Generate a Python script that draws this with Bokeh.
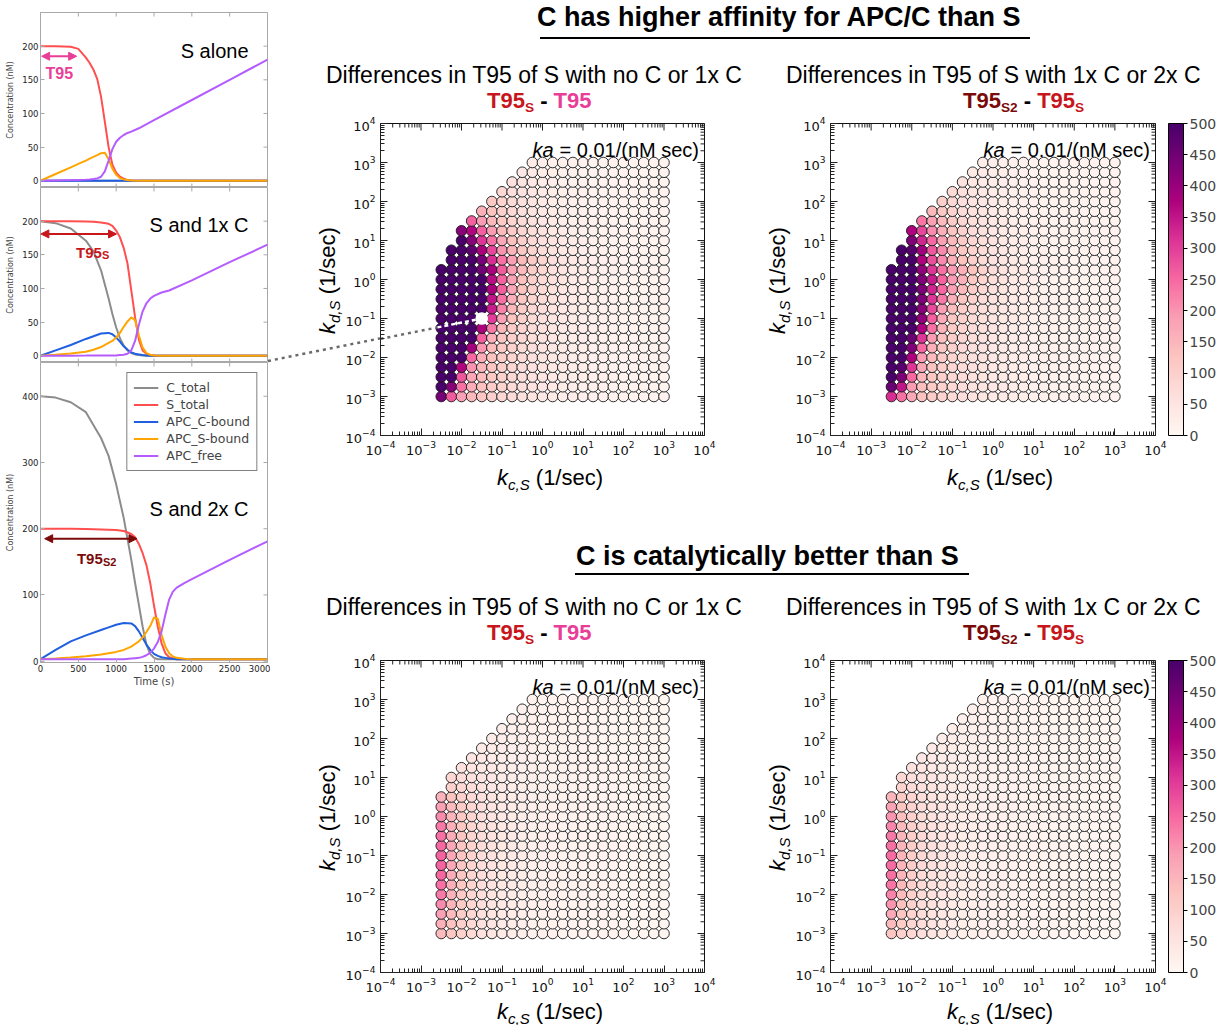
import math
from bokeh.plotting import figure
from bokeh.models import (ColumnDataSource, LinearColorMapper, ColorBar, FixedTicker,
                          Label, Arrow, NormalHead, Div)
from bokeh.layouts import row, column
from bokeh.embed import file_html
from bokeh.resources import INLINE

# ------------------------------------------------------------------ data
series_names = ["C_total", "S_total", "APC_C-bound", "APC_S-bound", "APC_free"]

# panel "S alone"
t_alone = [0, 200, 400, 500, 600, 650, 700, 750, 800, 850, 900, 950, 1000, 1050, 1100, 1150, 1200, 1300, 1500, 2000, 2500, 3000]
alone_C_total = [0, 0, 0, 0, 0, 0, 0, 0, 0, 0, 0, 0, 0, 0, 0, 0, 0, 0, 0, 0, 0, 0]
alone_S_total = [200, 200, 199, 196, 183, 175, 165, 151, 125, 88, 50, 24, 12, 6, 3, 1, 0.5, 0, 0, 0, 0, 0]
alone_C_bound = [0, 0, 0, 0, 0, 0, 0, 0, 0, 0, 0, 0, 0, 0, 0, 0, 0, 0, 0, 0, 0, 0]
alone_S_bound = [0, 10, 20, 25, 30, 33, 35.5, 38, 41, 41.5, 32, 18, 9, 4, 2, 1, 0.5, 0, 0, 0, 0, 0]
alone_free = [0, 0.5, 1, 1.3, 1.7, 2, 2.5, 3.5, 6, 14, 30, 47, 58, 64, 68, 71, 73, 78, 90, 120, 150, 180]

# panel "S and 1x C"
t_1x = [0, 200, 400, 600, 700, 800, 900, 950, 1000, 1050, 1100, 1150, 1200, 1250, 1300, 1350, 1400, 1450, 1500, 1600, 1700, 2000, 2500, 3000]
c1_C_total = [200, 197, 189, 171, 155, 127, 85, 62, 42, 26, 15, 8, 4, 2, 1, 0.5, 0, 0, 0, 0, 0, 0, 0, 0]
c1_S_total = [200, 200, 200, 199.5, 199, 198, 196, 193, 186, 176, 160, 137, 97, 57, 24, 8, 3, 1, 0.5, 0, 0, 0, 0, 0]
c1_C_bound = [0, 8, 16, 25, 29, 33, 34, 32, 27, 21, 14, 9, 5, 3, 2, 1, 0.5, 0, 0, 0, 0, 0, 0, 0]
c1_S_bound = [0, 1.5, 3.5, 6, 9, 13, 19, 22, 27, 34, 43, 51, 57, 53, 30, 12, 4, 1.5, 0.5, 0, 0, 0, 0, 0]
c1_free = [0, 0, 0.2, 0.3, 0.4, 0.5, 0.5, 0.5, 0.5, 1, 1.5, 3, 8, 22, 46, 66, 78, 85, 89, 94, 97, 112, 139, 165]

# panel "S and 2x C"
t_2x = [0, 200, 400, 600, 800, 900, 1000, 1100, 1200, 1250, 1300, 1350, 1400, 1450, 1500, 1550, 1600, 1650, 1700, 1750, 1800, 1900, 2000, 2500, 3000]
c2_C_total = [400, 398, 391, 376, 337, 310, 267, 216, 153, 118, 85, 52, 25, 11, 5, 3, 3, 3, 3, 3, 3, 3, 3, 3, 3]
c2_S_total = [200, 200, 200, 199.5, 199, 198.5, 198, 196.5, 192, 187, 177, 163, 145, 118, 84, 52, 27, 12, 6, 4, 3, 3, 3, 3, 3]
c2_C_bound = [3, 17, 30, 39, 47, 51, 55, 57.5, 57, 53, 45, 35, 25, 17, 11, 8, 6, 5, 4, 3.5, 3, 3, 3, 3, 3]
c2_S_bound = [3, 4, 5.5, 7.5, 10, 12, 14, 17, 22, 26, 30, 36, 44, 53, 66, 64, 40, 22, 12, 7, 5, 3.5, 3, 3, 3]
c2_free = [3, 3, 3, 3, 3, 3, 3, 3, 4, 4.5, 5, 6.5, 9, 13, 19, 29, 45, 70, 93, 105, 111, 118, 124, 153, 181]

# arrows / labels in the time panels (time, concentration)
t95_alone = (15, 478, 185)
t95_1x = (5, 1005, 181)
t95_2x = (55, 1275, 185)
time_ticks = [0, 500, 1000, 1500, 2000, 2500, 3000]

# parameter grid of the scatter panels
kc_exp = [-2.5, -2.25, -2.0, -1.75, -1.5, -1.25, -1.0, -0.75, -0.5, -0.25, 0.0, 0.25,
          0.5, 0.75, 1.0, 1.25, 1.5, 1.75, 2.0, 2.25, 2.5, 2.75, 3.0]
kd_exp = [-3.0, -2.75, -2.5, -2.25, -2.0, -1.75, -1.5, -1.25, -1.0, -0.75, -0.5, -0.25, 0.0,
          0.25, 0.5, 0.75, 1.0, 1.25, 1.5, 1.75, 2.0, 2.25, 2.5, 2.75, 3.0]
# first kc column present in each kd row (bottom row first)
start_col_top = [0, 0, 0, 0, 0, 0, 0, 0, 0, 0, 0, 0, 0, 0, 1, 1, 2, 2, 3, 4, 5, 6, 7, 8, 9]
start_col_bottom = [0, 0, 0, 0, 0, 0, 0, 0, 0, 0, 0, 0, 0, 0, 0, 1, 1, 2, 3, 4, 5, 6, 7, 8, 9]

# C has higher affinity: T95_S - T95
affinity_S_minus_0 = [
    [440, 265, 185, 145, 120, 100, 85, 72, 60, 50, 42, 35, 29, 24, 20, 17, 15, 13, 12, 11, 10, 10, 10],
    [500, 420, 240, 165, 130, 108, 90, 76, 63, 52, 44, 37, 30, 25, 21, 18, 15, 13, 12, 11, 10, 10, 10],
    [500, 500, 270, 175, 140, 115, 95, 80, 66, 55, 46, 38, 31, 26, 22, 18, 16, 14, 12, 11, 10, 10, 10],
    [500, 500, 370, 200, 150, 120, 100, 84, 70, 58, 48, 40, 32, 27, 22, 19, 16, 14, 12, 11, 10, 10, 10],
    [500, 500, 500, 250, 165, 128, 105, 88, 73, 60, 50, 41, 33, 27, 23, 19, 16, 14, 12, 11, 10, 10, 10],
    [500, 500, 500, 390, 200, 140, 112, 92, 76, 63, 52, 42, 34, 28, 23, 19, 16, 14, 12, 11, 10, 10, 10],
    [500, 500, 500, 500, 260, 160, 120, 97, 80, 66, 54, 44, 35, 29, 24, 20, 17, 14, 12, 11, 10, 10, 10],
    [500, 500, 500, 500, 380, 230, 145, 108, 86, 70, 57, 46, 37, 30, 24, 20, 17, 14, 12, 11, 10, 10, 10],
    [500, 500, 500, 500, 480, 300, 180, 125, 95, 76, 61, 49, 39, 31, 25, 21, 17, 15, 13, 11, 10, 10, 10],
    [500, 500, 500, 500, 500, 340, 220, 145, 105, 82, 65, 52, 41, 33, 26, 21, 18, 15, 13, 11, 10, 10, 10],
    [500, 500, 500, 500, 500, 350, 240, 160, 115, 88, 69, 55, 43, 34, 27, 22, 18, 15, 13, 11, 10, 10, 10],
    [500, 500, 500, 500, 500, 380, 260, 175, 125, 94, 73, 58, 45, 35, 28, 22, 18, 15, 13, 11, 10, 10, 10],
    [500, 500, 500, 500, 500, 360, 255, 180, 130, 98, 76, 60, 47, 36, 29, 23, 19, 15, 13, 11, 10, 10, 10],
    [500, 500, 500, 500, 450, 380, 265, 185, 140, 105, 80, 62, 48, 37, 30, 24, 19, 16, 13, 11, 10, 10, 10],
    [500, 500, 500, 440, 320, 240, 185, 140, 108, 83, 64, 50, 39, 31, 24, 19, 16, 13, 11, 10, 10, 10],
    [500, 500, 470, 380, 290, 200, 150, 115, 88, 68, 53, 41, 32, 25, 20, 16, 13, 11, 10, 10, 10, 10],
    [500, 420, 310, 240, 170, 130, 100, 78, 61, 48, 38, 30, 24, 19, 15, 13, 11, 10, 10, 10, 10],
    [420, 370, 260, 190, 140, 108, 84, 66, 52, 41, 32, 25, 20, 16, 13, 11, 10, 10, 10, 10, 10],
    [260, 190, 145, 112, 88, 70, 55, 43, 34, 27, 21, 17, 14, 12, 10, 10, 10, 10, 10, 10],
    [160, 125, 98, 78, 62, 49, 39, 31, 25, 20, 16, 13, 11, 10, 10, 10, 10, 10, 10],
    [115, 90, 72, 58, 46, 37, 29, 23, 19, 15, 13, 11, 10, 10, 10, 10, 10, 10],
    [80, 64, 52, 42, 33, 27, 22, 18, 15, 12, 11, 10, 10, 10, 10, 10, 10],
    [58, 47, 38, 31, 25, 20, 17, 14, 12, 11, 10, 10, 10, 10, 10, 10],
    [42, 34, 28, 23, 19, 16, 13, 12, 11, 10, 10, 10, 10, 10, 10],
    [30, 25, 21, 18, 15, 13, 12, 11, 10, 10, 10, 10, 10, 10],
]
# C has higher affinity: T95_S2 - T95_S
affinity_S2_minus_S = [
    [320, 240, 170, 130, 108, 90, 76, 64, 54, 45, 38, 32, 27, 22, 19, 16, 14, 12, 11, 10, 10, 10, 10],
    [460, 350, 190, 135, 112, 93, 78, 66, 55, 46, 39, 32, 27, 23, 19, 16, 14, 12, 11, 10, 10, 10, 10],
    [500, 435, 250, 150, 118, 97, 81, 68, 57, 48, 40, 33, 28, 23, 19, 16, 14, 12, 11, 10, 10, 10, 10],
    [500, 480, 310, 175, 128, 102, 85, 71, 59, 49, 41, 34, 28, 23, 19, 16, 14, 12, 11, 10, 10, 10, 10],
    [500, 500, 375, 190, 140, 108, 89, 74, 61, 51, 42, 35, 29, 24, 20, 17, 14, 12, 11, 10, 10, 10, 10],
    [500, 500, 430, 250, 160, 118, 95, 78, 64, 53, 44, 36, 29, 24, 20, 17, 14, 12, 11, 10, 10, 10, 10],
    [500, 500, 460, 310, 190, 130, 102, 83, 68, 56, 46, 37, 30, 25, 20, 17, 14, 12, 11, 10, 10, 10, 10],
    [500, 500, 500, 375, 240, 150, 108, 88, 72, 59, 48, 38, 31, 25, 21, 17, 14, 12, 11, 10, 10, 10, 10],
    [500, 500, 500, 410, 260, 165, 118, 94, 76, 62, 50, 40, 32, 26, 21, 17, 14, 12, 11, 10, 10, 10, 10],
    [500, 500, 500, 420, 285, 185, 135, 102, 82, 66, 53, 42, 33, 27, 21, 17, 15, 12, 11, 10, 10, 10, 10],
    [500, 500, 500, 430, 310, 230, 160, 118, 92, 72, 57, 45, 35, 28, 22, 18, 15, 12, 11, 10, 10, 10, 10],
    [500, 500, 500, 435, 330, 250, 185, 140, 105, 80, 62, 48, 37, 29, 23, 18, 15, 13, 11, 10, 10, 10, 10],
    [500, 500, 500, 430, 340, 255, 190, 155, 115, 86, 66, 51, 39, 30, 24, 19, 15, 13, 11, 10, 10, 10, 10],
    [500, 500, 500, 410, 310, 240, 190, 160, 125, 92, 70, 54, 41, 32, 25, 19, 16, 13, 11, 10, 10, 10, 10],
    [500, 500, 375, 280, 210, 160, 125, 98, 76, 58, 45, 35, 27, 21, 17, 14, 12, 10, 10, 10, 10, 10],
    [500, 480, 390, 270, 210, 150, 115, 90, 70, 54, 42, 33, 26, 20, 16, 13, 11, 10, 10, 10, 10, 10],
    [430, 330, 250, 185, 140, 108, 84, 65, 51, 40, 31, 25, 20, 16, 13, 11, 10, 10, 10, 10, 10],
    [375, 290, 210, 160, 120, 92, 72, 56, 44, 35, 28, 22, 18, 14, 12, 10, 10, 10, 10, 10, 10],
    [235, 185, 140, 108, 84, 66, 52, 41, 32, 26, 21, 17, 14, 12, 10, 10, 10, 10, 10, 10],
    [145, 115, 90, 72, 57, 45, 36, 29, 23, 19, 15, 13, 11, 10, 10, 10, 10, 10, 10],
    [100, 80, 64, 52, 42, 34, 27, 22, 18, 15, 12, 11, 10, 10, 10, 10, 10, 10],
    [75, 60, 48, 39, 31, 25, 21, 17, 14, 12, 11, 10, 10, 10, 10, 10, 10],
    [55, 44, 36, 29, 24, 20, 16, 14, 12, 11, 10, 10, 10, 10, 10, 10],
    [40, 33, 27, 22, 18, 15, 13, 12, 11, 10, 10, 10, 10, 10, 10],
    [28, 24, 20, 17, 14, 12, 11, 10, 10, 10, 10, 10, 10, 10],
]
# C is catalytically better: T95_S - T95
catalytic_S_minus_0 = [
    [140, 118, 95, 75, 58, 45, 36, 29, 24, 20, 17, 15, 13, 11, 10, 9, 8, 8, 7, 7, 7, 7, 7],
    [160, 128, 100, 78, 60, 47, 37, 30, 24, 20, 17, 15, 13, 11, 10, 9, 8, 8, 7, 7, 7, 7, 7],
    [185, 140, 105, 80, 62, 48, 38, 30, 25, 21, 17, 15, 13, 11, 10, 9, 8, 8, 7, 7, 7, 7, 7],
    [210, 150, 110, 83, 64, 49, 39, 31, 25, 21, 18, 15, 13, 11, 10, 9, 8, 8, 7, 7, 7, 7, 7],
    [230, 155, 113, 85, 65, 50, 39, 31, 25, 21, 18, 15, 13, 11, 10, 9, 8, 8, 7, 7, 7, 7, 7],
    [240, 160, 116, 87, 66, 51, 40, 32, 26, 21, 18, 15, 13, 11, 10, 9, 8, 8, 7, 7, 7, 7, 7],
    [250, 165, 118, 88, 67, 52, 40, 32, 26, 21, 18, 15, 13, 11, 10, 9, 8, 8, 7, 7, 7, 7, 7],
    [255, 170, 120, 89, 68, 52, 41, 32, 26, 21, 18, 15, 13, 11, 10, 9, 8, 8, 7, 7, 7, 7, 7],
    [255, 170, 121, 90, 68, 52, 41, 32, 26, 21, 18, 15, 13, 11, 10, 9, 8, 8, 7, 7, 7, 7, 7],
    [250, 170, 121, 90, 68, 52, 41, 32, 26, 21, 18, 15, 13, 11, 10, 9, 8, 8, 7, 7, 7, 7, 7],
    [240, 165, 120, 89, 67, 52, 40, 32, 26, 21, 18, 15, 13, 11, 10, 9, 8, 8, 7, 7, 7, 7, 7],
    [230, 160, 118, 88, 66, 51, 40, 32, 26, 21, 18, 15, 13, 11, 10, 9, 8, 8, 7, 7, 7, 7, 7],
    [210, 150, 114, 86, 65, 50, 39, 31, 25, 21, 17, 15, 13, 11, 10, 9, 8, 8, 7, 7, 7, 7, 7],
    [185, 140, 108, 83, 63, 49, 38, 31, 25, 20, 17, 15, 13, 11, 10, 9, 8, 8, 7, 7, 7, 7, 7],
    [155, 125, 100, 78, 60, 47, 37, 30, 24, 20, 17, 14, 12, 11, 10, 9, 8, 8, 7, 7, 7, 7, 7],
    [95, 80, 65, 52, 42, 34, 28, 23, 19, 16, 14, 12, 11, 10, 9, 8, 8, 7, 7, 7, 7, 7],
    [85, 70, 58, 47, 38, 31, 25, 21, 18, 15, 13, 12, 10, 9, 9, 8, 7, 7, 7, 7, 7, 7],
    [60, 50, 41, 34, 28, 23, 19, 16, 14, 12, 11, 10, 9, 8, 8, 7, 7, 7, 7, 7, 7],
    [45, 38, 31, 26, 21, 18, 15, 13, 12, 10, 9, 9, 8, 7, 7, 7, 7, 7, 7, 7],
    [36, 30, 25, 21, 17, 15, 13, 11, 10, 9, 9, 8, 7, 7, 7, 7, 7, 7, 7],
    [30, 25, 21, 18, 15, 13, 11, 10, 9, 9, 8, 7, 7, 7, 7, 7, 7, 7],
    [25, 21, 18, 15, 13, 11, 10, 9, 9, 8, 7, 7, 7, 7, 7, 7, 7],
    [21, 18, 15, 13, 11, 10, 9, 9, 8, 7, 7, 7, 7, 7, 7, 7],
    [18, 15, 13, 11, 10, 9, 9, 8, 7, 7, 7, 7, 7, 7, 7],
    [15, 13, 11, 10, 9, 9, 8, 7, 7, 7, 7, 7, 7, 7],
]
# C is catalytically better: T95_S2 - T95_S
catalytic_S2_minus_S = [
    [120, 100, 80, 64, 50, 40, 32, 26, 22, 18, 16, 14, 12, 11, 10, 9, 8, 8, 7, 7, 7, 7, 7],
    [140, 110, 85, 67, 52, 41, 33, 27, 22, 18, 16, 14, 12, 11, 10, 9, 8, 8, 7, 7, 7, 7, 7],
    [170, 120, 90, 70, 54, 42, 34, 27, 22, 19, 16, 14, 12, 11, 10, 9, 8, 8, 7, 7, 7, 7, 7],
    [200, 130, 95, 72, 56, 43, 34, 28, 23, 19, 16, 14, 12, 11, 10, 9, 8, 8, 7, 7, 7, 7, 7],
    [220, 140, 98, 74, 57, 44, 35, 28, 23, 19, 16, 14, 12, 11, 10, 9, 8, 8, 7, 7, 7, 7, 7],
    [235, 145, 100, 75, 58, 45, 35, 28, 23, 19, 16, 14, 12, 11, 10, 9, 8, 8, 7, 7, 7, 7, 7],
    [240, 150, 102, 76, 58, 45, 36, 29, 23, 19, 16, 14, 12, 11, 10, 9, 8, 8, 7, 7, 7, 7, 7],
    [245, 152, 104, 77, 59, 46, 36, 29, 23, 19, 16, 14, 12, 11, 10, 9, 8, 8, 7, 7, 7, 7, 7],
    [245, 152, 105, 78, 59, 46, 36, 29, 23, 19, 16, 14, 12, 11, 10, 9, 8, 8, 7, 7, 7, 7, 7],
    [240, 150, 104, 77, 59, 46, 36, 29, 23, 19, 16, 14, 12, 11, 10, 9, 8, 8, 7, 7, 7, 7, 7],
    [230, 148, 103, 77, 58, 45, 36, 29, 23, 19, 16, 14, 12, 11, 10, 9, 8, 8, 7, 7, 7, 7, 7],
    [215, 142, 100, 75, 57, 45, 35, 28, 23, 19, 16, 14, 12, 11, 10, 9, 8, 8, 7, 7, 7, 7, 7],
    [200, 135, 97, 73, 56, 44, 35, 28, 23, 19, 16, 14, 12, 11, 10, 9, 8, 8, 7, 7, 7, 7, 7],
    [180, 125, 92, 70, 54, 43, 34, 28, 23, 19, 16, 14, 12, 11, 10, 9, 8, 8, 7, 7, 7, 7, 7],
    [150, 112, 86, 66, 51, 41, 33, 27, 22, 18, 16, 14, 12, 11, 10, 9, 8, 8, 7, 7, 7, 7, 7],
    [90, 72, 58, 47, 38, 31, 25, 21, 18, 15, 13, 12, 11, 10, 9, 8, 8, 7, 7, 7, 7, 7],
    [80, 64, 52, 43, 35, 28, 23, 20, 17, 14, 13, 11, 10, 9, 9, 8, 7, 7, 7, 7, 7, 7],
    [55, 45, 37, 31, 26, 21, 18, 15, 13, 12, 11, 10, 9, 8, 8, 7, 7, 7, 7, 7, 7],
    [42, 35, 29, 24, 20, 17, 14, 13, 11, 10, 9, 9, 8, 7, 7, 7, 7, 7, 7, 7],
    [34, 28, 23, 19, 16, 14, 12, 11, 10, 9, 9, 8, 7, 7, 7, 7, 7, 7, 7],
    [28, 23, 19, 16, 14, 12, 11, 10, 9, 9, 8, 7, 7, 7, 7, 7, 7, 7],
    [23, 19, 16, 14, 12, 11, 10, 9, 9, 8, 7, 7, 7, 7, 7, 7, 7],
    [19, 16, 14, 12, 11, 10, 9, 9, 8, 7, 7, 7, 7, 7, 7, 7],
    [16, 14, 12, 11, 10, 9, 9, 8, 7, 7, 7, 7, 7, 7, 7],
    [14, 12, 11, 10, 9, 9, 8, 7, 7, 7, 7, 7, 7, 7],
]
# highlighted parameter set (linked to the "S and 1x C" time course)
highlight_kc = [10 ** -1.5]
highlight_kd = [10 ** -1.0]
colorbar_ticks = [0, 50, 100, 150, 200, 250, 300, 350, 400, 450, 500]

# ------------------------------------------------------------------ style
series_colors = ["#8c8c8c", "#ff4f4f", "#1f5fe0", "#ffa500", "#b55cff"]
PINK, RED, MAROON = "#e83e97", "#c8161d", "#7b0a0a"
SANS = "Liberation Sans"
RDPU = ["#fff7f3", "#fde0dd", "#fcc5c0", "#fa9fb5", "#f768a1", "#dd3497", "#ae017e", "#7a0177", "#49006a"]


def interp_palette(cols, n):
    rgb = [tuple(int(c[i:i + 2], 16) for i in (1, 3, 5)) for c in cols]
    out = []
    for i in range(n):
        f = i / (n - 1) * (len(rgb) - 1)
        k = min(int(f), len(rgb) - 2)
        u = f - k
        out.append("#%02x%02x%02x" % tuple(round(rgb[k][m] * (1 - u) + rgb[k + 1][m] * u) for m in range(3)))
    return out


mapper = LinearColorMapper(palette=interp_palette(RDPU, 256), low=0, high=500)


def slabel(p, text, x, y, size, style="normal", align="left", color="black",
           font=SANS, baseline="alphabetic", units="screen"):
    p.add_layout(Label(x=x, y=y, x_units=units, y_units=units, text=text, text_font=font,
                       text_font_size=size, text_font_style=style, text_align=align,
                       text_baseline=baseline, text_color=color))


# ------------------------------------------------------------------ time panels
def time_panel(t, ys, y_range, yticks, frame_h, top_b, bottom_b, show_x, legend, tick_edges):
    p = figure(frame_width=227, frame_height=frame_h, x_range=(0, 3000), y_range=y_range,
               min_border_left=40, min_border_right=3, min_border_top=top_b, min_border_bottom=bottom_b,
               x_axis_location="below" if show_x else None, toolbar_location=None,
               output_backend="svg")
    # mirrored inner tick marks (matplotlib style) on the frame edges without axes
    y0, y1 = y_range
    dy = (y1 - y0) / frame_h * 4
    dx = 3000 / 227 * 4
    inner_t = time_ticks[1:-1]
    if "top" in tick_edges:
        p.segment(inner_t, [y1] * len(inner_t), inner_t, [y1 - dy] * len(inner_t), line_color="#a8a8a8")
    if "bottom" in tick_edges:
        p.segment(inner_t, [y0] * len(inner_t), inner_t, [y0 + dy] * len(inner_t), line_color="#a8a8a8")
    p.segment([3000] * len(yticks), yticks, [3000 - dx] * len(yticks), yticks, line_color="#a8a8a8")
    for name, vals, col in zip(series_names, ys, series_colors):
        if legend:
            p.line(t, vals, line_color=col, line_width=2, legend_label=name)
        else:
            p.line(t, vals, line_color=col, line_width=2)
    p.grid.visible = False
    p.outline_line_color = "#a8a8a8"
    ya = p.yaxis[0]
    ya.ticker = FixedTicker(ticks=yticks)
    ya.axis_label = "Concentration (nM)"
    ya.axis_label_text_font = "DejaVu Sans"
    ya.axis_label_text_font_size = "8px"
    ya.axis_label_text_font_style = "normal"
    ya.axis_label_standoff = 4
    axes = [ya]
    if show_x:
        xa = p.xaxis[0]
        xa.ticker = FixedTicker(ticks=time_ticks)
        xa.axis_label = "Time (s)"
        xa.axis_label_text_font = "DejaVu Sans"
        xa.axis_label_text_font_size = "10px"
        xa.axis_label_text_font_style = "normal"
        xa.axis_label_standoff = 1
        axes.append(xa)
    for ax in axes:
        ax.major_label_text_font = "DejaVu Sans"
        ax.major_label_text_font_size = "8.5px"
        ax.major_label_text_color = "#222"
        ax.major_label_standoff = 2
        ax.major_tick_in = 4
        ax.major_tick_out = 0
        ax.minor_tick_line_color = None
        ax.axis_line_color = "#a8a8a8"
        ax.major_tick_line_color = "#a8a8a8"
    return p


def t95_arrow(p, spec, color):
    x0, x1, y = spec
    p.add_layout(Arrow(start=NormalHead(size=8, fill_color=color, line_color=color),
                       end=NormalHead(size=8, fill_color=color, line_color=color),
                       x_start=x0, y_start=y, x_end=x1, y_end=y,
                       line_color=color, line_width=2))


p1 = time_panel(t_alone, [alone_C_total, alone_S_total, alone_C_bound, alone_S_bound, alone_free],
                (-10, 250), [0, 50, 100, 150, 200], 175, 12, 0, False, False, ("top", "bottom"))
t95_arrow(p1, t95_alone, PINK)
slabel(p1, "T95", 248, 160, "16px", style="bold", align="center", color=PINK, baseline="middle", units="data")
slabel(p1, "S alone", 208, 137, "20px", align="right")

p2 = time_panel(t_1x, [c1_C_total, c1_S_total, c1_C_bound, c1_S_bound, c1_free],
                (-10, 250), [0, 50, 100, 150, 200], 175, 0, 0, False, False, ("top", "bottom"))
t95_arrow(p2, t95_1x, RED)
slabel(p2, "T95", 812, 154, "15px", style="bold", align="right", color=RED, units="data")
slabel(p2, "S", 814, 149, "11px", style="bold", align="left", color=RED, units="data")
slabel(p2, "S and 1x C", 208, 138, "20px", align="right")

p3 = time_panel(t_2x, [c2_C_total, c2_S_total, c2_C_bound, c2_S_bound, c2_free],
                (-2, 451), [0, 100, 200, 300, 400], 300, 0, 28, True, True, ("top",))
t95_arrow(p3, t95_2x, MAROON)
slabel(p3, "T95", 823, 155, "15px", style="bold", align="right", color=MAROON, units="data")
slabel(p3, "S2", 825, 150, "11px", style="bold", align="left", color=MAROON, units="data")
slabel(p3, "S and 2x C", 208, 154, "20px", align="right")
lg = p3.legend[0]
lg.location = "top_right"
lg.margin = 10
lg.padding = 6
lg.spacing = 0
lg.label_text_font = "DejaVu Sans"
lg.label_text_font_size = "12.5px"
lg.glyph_width = 25
lg.glyph_height = 17
lg.label_height = 17
lg.label_standoff = 8
lg.border_line_color = "black"
lg.border_line_width = 1
lg.background_fill_alpha = 1.0

# ------------------------------------------------------------------ scatter panels
major = [10.0 ** e for e in range(-4, 5)]
minor = [m * 10.0 ** e for e in range(-4, 4) for m in range(2, 10)]


def scatter_panel(rows, starts, frame_w, right_b, with_cb):
    kc, kd, v = [], [], []
    for j, (s, vals) in enumerate(zip(starts, rows)):
        for k, val in enumerate(vals):
            kc.append(10 ** kc_exp[s + k])
            kd.append(10 ** kd_exp[j])
            v.append(val)
    src = ColumnDataSource(dict(kc=kc, kd=kd, v=v))
    p = figure(x_axis_type="log", y_axis_type="log", x_range=(1e-4, 1e4), y_range=(1e-4, 1e4),
               frame_width=frame_w, frame_height=312, min_border_left=38, min_border_right=right_b,
               min_border_top=8, min_border_bottom=28, toolbar_location=None,
               output_backend="svg")
    p.grid.visible = False
    p.outline_line_color = "#111"
    # mirrored inner ticks on the top and right edges (lengths in decades: 7 px major, 4 px minor)
    my, mx = 7 / 39.0, 7 / 40.5
    ny, nx = 4 / 39.0, 4 / 40.5
    top, rgt = 1e4, 1e4
    p.segment(major, [top] * len(major), major, [10 ** (4 - my)] * len(major), line_color="#222")
    p.segment(minor, [top] * len(minor), minor, [10 ** (4 - ny)] * len(minor), line_color="#222")
    p.segment([rgt] * len(major), major, [10 ** (4 - mx)] * len(major), major, line_color="#222")
    p.segment([rgt] * len(minor), minor, [10 ** (4 - nx)] * len(minor), minor, line_color="#222")
    p.scatter("kc", "kd", source=src, size=10.6, fill_color={"field": "v", "transform": mapper},
              line_color="#1a1a1a", line_width=0.9)
    for ax in (p.xaxis[0], p.yaxis[0]):
        ax.ticker = FixedTicker(ticks=major, minor_ticks=minor)
        ax.major_tick_in = 7
        ax.major_tick_out = 0
        ax.minor_tick_in = 4
        ax.minor_tick_out = 0
        ax.major_tick_line_color = "#222"
        ax.minor_tick_line_color = "#222"
        ax.axis_line_color = "#222"
        ax.major_label_text_font = "DejaVu Sans"
        ax.major_label_text_font_size = "13px"
        ax.major_label_text_color = "#111"
        ax.major_label_standoff = 5
    # rate constant note
    slabel(p, "ka", frame_w - 151, 286, "20px", style="italic", align="right")
    slabel(p, "= 0.01/(nM sec)", frame_w - 145, 286, "20px", align="left")
    if with_cb:
        cb = ColorBar(color_mapper=mapper, ticker=FixedTicker(ticks=colorbar_ticks),
                      width=15, height=312, padding=0, margin=0, location=(13, 0),
                      major_label_text_font="DejaVu Sans", major_label_text_font_size="14px",
                      major_tick_out=4, major_tick_in=0, major_tick_line_color="black",
                      minor_tick_line_color=None, bar_line_color="black", border_line_color=None,
                      label_standoff=2)
        p.add_layout(cb, "right")
    return p


pA = scatter_panel(affinity_S_minus_0, start_col_top, 324, 16, False)
pB = scatter_panel(affinity_S2_minus_S, start_col_top, 325, 66, True)
pC = scatter_panel(catalytic_S_minus_0, start_col_bottom, 324, 16, False)
pD = scatter_panel(catalytic_S2_minus_S, start_col_bottom, 325, 66, True)

# link from the "S and 1x C" time course to its parameter set (part inside the frame)
pA.line([10 ** -4.0, 10 ** -2.593], [10 ** -1.523, 10 ** -1.228], line_color="#6a6a6a",
        line_width=2.5, line_dash="3 4")
pA.line([10 ** -2.593, 10 ** -1.63], [10 ** -1.228, 10 ** -1.028], line_color="white",
        line_width=2.5, line_dash="4 3")
pA.scatter(highlight_kc, highlight_kd, size=10.6, fill_color="white", line_color="white", line_width=2)

# ------------------------------------------------------------------ text blocks (HTML)
W_RIGHT = 951
SUB = '<sub style="font-size:0.62em;vertical-align:-0.28em;line-height:0">{}</sub>'
LOW = '<span style="font-size:15px;position:relative;top:5px"><i>{}</i></span>'
FONTCSS = "font-family:'Liberation Sans',Arial,sans-serif;color:#000"


def abs_text(left, top, size, html, bold=False, extra=""):
    return ('<div style="position:absolute;left:%dpx;top:%dpx;font-size:%dpx;font-weight:%s;'
            'line-height:1;white-space:nowrap;%s">%s</div>'
            % (left, top, size, "bold" if bold else "normal", extra, html))


def box(width, height, inner):
    return Div(text='<div style="position:relative;width:%dpx;height:%dpx;%s">%s</div>'
               % (width, height, FONTCSS, inner), width=width, height=height, margin=0)


def subtitles(s_top, f_top):
    d1 = abs_text(56, s_top, 23, "Differences in T95 of S with no C or 1x C")
    d2 = abs_text(516, s_top, 23, "Differences in T95 of S with 1x C or 2x C")
    f1 = abs_text(217, f_top, 22, '<span style="color:%s">T95%s</span> - <span style="color:%s">T95</span>'
                  % (RED, SUB.format("S"), PINK), bold=True)
    f2 = abs_text(693, f_top, 22, '<span style="color:%s">T95%s</span> - <span style="color:%s">T95%s</span>'
                  % (MAROON, SUB.format("S2"), RED, SUB.format("S")), bold=True)
    return d1 + d2 + f1 + f2


def section_title(text, left, top, u_left, u_top, u_w):
    return (abs_text(left, top, 27, text, bold=True)
            + '<div style="position:absolute;left:%dpx;top:%dpx;width:%dpx;border-top:2.5px solid #000"></div>'
            % (u_left, u_top, u_w))


XLAB = "<i>k</i>" + LOW.format("c,S") + " (1/sec)"
YLAB = "<i>k</i>" + LOW.format("d,S") + " (1/sec)"


def xlabels(top):
    return abs_text(227, top, 22, XLAB) + abs_text(677, top, 22, XLAB)


div_top = box(W_RIGHT, 115, section_title("C has higher affinity for APC/C than S", 267, 4, 270, 37, 490)
              + subtitles(64, 90))
div_mid = box(W_RIGHT, 189, xlabels(4)
              + section_title("C is catalytically better than S", 306, 80, 305, 110, 394)
              + subtitles(133, 159))
div_bot = box(W_RIGHT, 24, xlabels(1))

ROT = "transform:rotate(-90deg);transform-origin:0 0"
LINK_SVG = ('<svg style="position:absolute;left:0;top:0;overflow:visible;z-index:5;pointer-events:none" '
            'width="72" height="348"><line x1="-2" y1="246" x2="110" y2="223.4" stroke="#6a6a6a" '
            'stroke-width="2.5" stroke-dasharray="3 4"/></svg>')


def ylab_div(link=False):
    inner = abs_text(47, 219, 22, YLAB, extra=ROT)
    if link:
        inner += LINK_SVG
    return box(72, 348, inner)


left = column(p1, p2, p3, spacing=0)
right = column(div_top,
               row(ylab_div(True), pA, ylab_div(), pB, spacing=0),
               div_mid,
               row(ylab_div(), pC, ylab_div(), pD, spacing=0),
               div_bot, spacing=0)
layout = row(left, right, spacing=0)

open("out.html", "w").write(file_html(layout, INLINE))
